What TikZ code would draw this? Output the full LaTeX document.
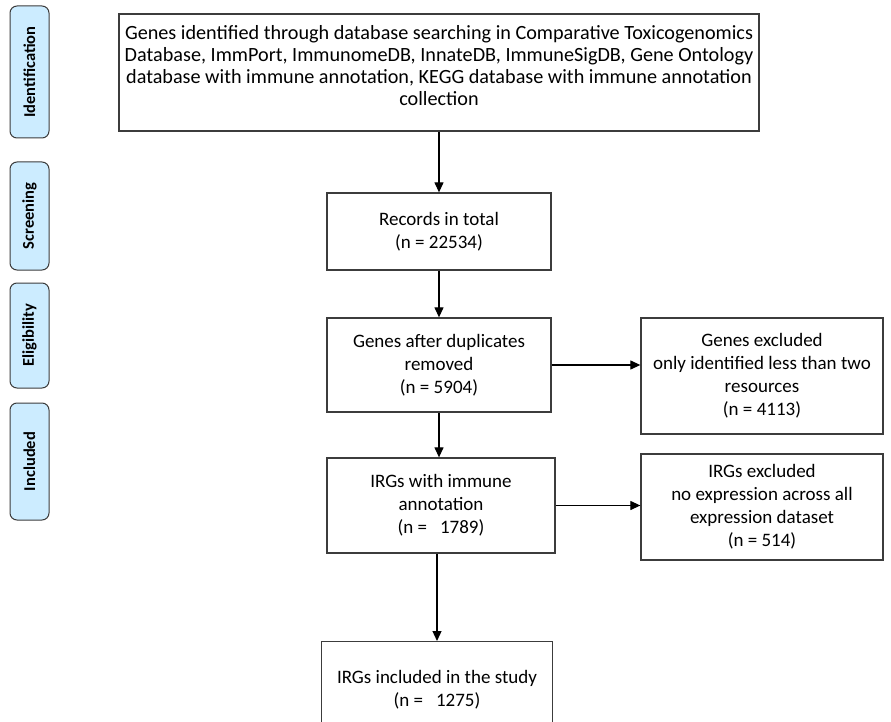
\documentclass[tikz,border=0pt]{standalone}
\usepackage{fontspec}
\setmainfont{Carlito}
\usetikzlibrary{arrows.meta}
\definecolor{stagefill}{RGB}{204,236,255}
\definecolor{boxline}{RGB}{60,60,60}

\begin{document}
\begin{tikzpicture}[x=1pt,y=-1pt,
  box/.style={draw=boxline,line width=1.3pt,align=center,inner sep=0pt,
    font=\fontsize{19}{23}\selectfont},
  stage/.style={draw=boxline,fill=stagefill,rounded corners=7pt,line width=1pt,
    minimum height=39pt,rotate=90,font=\fontsize{16.5}{18}\selectfont\bfseries},
  flow/.style={-{Triangle[length=10pt,width=9pt]},line width=1.2pt}]
\useasboundingbox (0,0) rectangle (891,722);
\node[stage,minimum width=132pt] (ident) at (29.5,72) {Identification};
\node[stage,minimum width=108pt] (screen) at (29.5,216) {Screening};
\node[stage,minimum width=105pt] (elig) at (29.5,335.5) {Eligibility};
\node[stage,minimum width=117pt] (incl) at (29.5,461.5) {Included};
\node[box,minimum width=640pt,minimum height=117pt,text depth=15pt,
  font=\fontsize{20.2}{22}\selectfont] (search) at (439,72.5)
  {Genes identified through database searching in Comparative Toxicogenomics\\
   Database, ImmPort, ImmunomeDB, InnateDB, ImmuneSigDB, Gene Ontology\\
   database with immune annotation, KEGG database with immune annotation\\
   collection};
\node[box,minimum width=224pt,minimum height=77pt] (records) at (439,231.5)
  {Records in total\\(n = 22534)};
\node[box,minimum width=224pt,minimum height=94pt] (dedup) at (439,365)
  {Genes after duplicates\\removed\\(n = 5904)};
\node[box,minimum width=242pt,minimum height=116pt] (genexcl) at (762,376)
  {Genes excluded\\only identified less than two\\resources\\(n = 4113)};
\node[box,minimum width=228pt,minimum height=95pt] (annot) at (441,505.5)
  {IRGs with immune\\annotation\\(n = \ \ 1789)};
\node[box,minimum width=242pt,minimum height=106pt] (irgexcl) at (762,507)
  {IRGs excluded\\no expression across all\\expression dataset\\(n = 514)};
\node[box,anchor=north,minimum width=231pt,inner ysep=29pt,text depth=60pt] (study) at (437,641)
  {IRGs included in the study\\(n = \ \ 1275)};
\draw[flow] (search.south -| records.north) -- (records.north);
\draw[flow] (records) -- (dedup);
\draw[flow] (dedup.south) -- (dedup.south |- annot.north);
\draw[flow] (annot.south -| study.north) -- (study.north);
\draw[flow] (dedup.east) -- (dedup.east -| genexcl.west);
\draw[flow] (annot.east) -- (annot.east -| irgexcl.west);
\end{tikzpicture}
\end{document}
